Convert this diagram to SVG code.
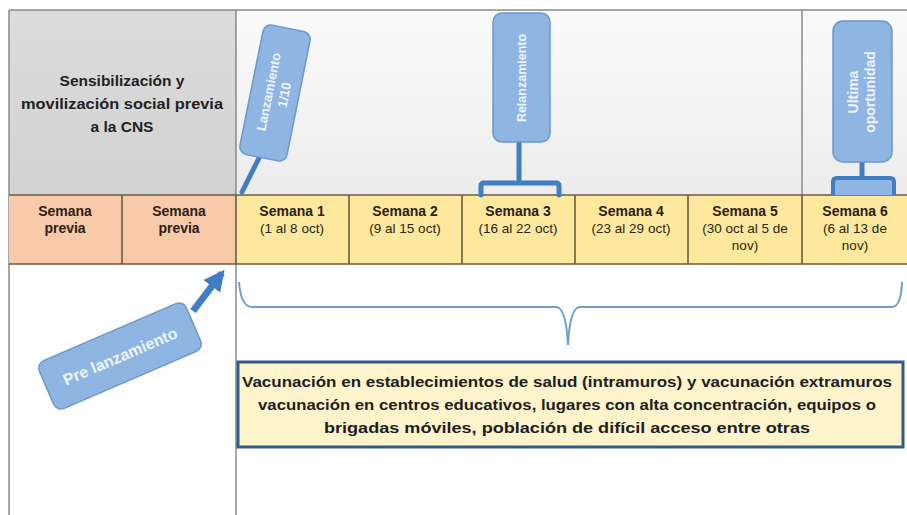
<svg xmlns="http://www.w3.org/2000/svg" width="907" height="515" viewBox="0 0 907 515">
<style>
.t{font-family:"Liberation Sans",Arial,sans-serif;font-weight:bold;fill:#2b2115;text-anchor:middle}
.cell{font-size:14px}
.sub{font-weight:normal;font-size:13.5px;fill:#2a1f12}
.hd{font-size:15.5px;fill:#222}
.main{font-size:15.5px;fill:#1e1e1e}
.co{font-family:"Liberation Sans",Arial,sans-serif;font-weight:bold;fill:#eef4fb;text-anchor:middle;font-size:13px}
.box{fill:#8fb6e3;stroke:#6b97c9;stroke-width:1.5}
.stem{stroke:#3f7ec2;stroke-width:5;fill:none;stroke-linecap:round}
.grid{stroke:#6b5a40;stroke-width:1.6;fill:none}
.frame{stroke:#8a8a8a;stroke-width:1.5;fill:none}
</style>
<defs>
<linearGradient id="bg" x1="0" y1="0" x2="0" y2="1">
<stop offset="0" stop-color="#fbfbfb"/>
<stop offset="1" stop-color="#ececec"/>
</linearGradient>
<linearGradient id="gr" x1="0" y1="0" x2="0" y2="1">
<stop offset="0" stop-color="#dcdcdc"/>
<stop offset="1" stop-color="#d2d2d2"/>
</linearGradient>
<marker id="ah" viewBox="0 0 10 10" refX="8" refY="5" markerWidth="3" markerHeight="3" orient="auto" markerUnits="strokeWidth">
<path d="M0,0 L10,5 L0,10 z" fill="#3f7ec2"/>
</marker>
</defs>
<rect width="907" height="515" fill="#ffffff"/>
<g id="top-area">
<rect x="236" y="10" width="671" height="185" fill="url(#bg)"/>
</g>
<g id="sensibilizacion">
<rect x="9" y="10" width="227" height="185" fill="url(#gr)"/>
<text class="t hd" x="122" y="86">Sensibilización y</text>
<text class="t hd" x="122" y="109" textLength="202" lengthAdjust="spacingAndGlyphs">movilización social previa</text>
<text class="t hd" x="122" y="132">a la CNS</text>
</g>
<g id="frame">
<line class="frame" x1="9" y1="10" x2="907" y2="10"/>
<line class="frame" x1="9" y1="10" x2="9" y2="515"/>
<line class="frame" x1="236" y1="10" x2="236" y2="515"/>
<line class="frame" x1="802" y1="10" x2="802" y2="195"/>
</g>
<g id="weeks">
<rect x="9" y="195" width="227" height="69" fill="#f8caa9"/>
<rect x="236" y="195" width="671" height="69" fill="#fde89e"/>
<line class="grid" x1="9" y1="195" x2="907" y2="195"/>
<line class="grid" x1="9" y1="264" x2="907" y2="264"/>
<line class="grid" x1="122" y1="195" x2="122" y2="264"/>
<line class="grid" x1="236" y1="195" x2="236" y2="264"/>
<line class="grid" x1="349" y1="195" x2="349" y2="264"/>
<line class="grid" x1="462" y1="195" x2="462" y2="264"/>
<line class="grid" x1="575" y1="195" x2="575" y2="264"/>
<line class="grid" x1="688" y1="195" x2="688" y2="264"/>
<line class="grid" x1="802" y1="195" x2="802" y2="264"/>
<g id="semana-previa-1"><text class="t cell" x="65" y="216">Semana</text><text class="t cell" x="65" y="233">previa</text></g>
<g id="semana-previa-2"><text class="t cell" x="179" y="216">Semana</text><text class="t cell" x="179" y="233">previa</text></g>
<g id="semana-1"><text class="t cell" x="292" y="216">Semana 1</text><text class="t cell sub" x="292" y="233">(1 al 8 oct)</text></g>
<g id="semana-2"><text class="t cell" x="405" y="216">Semana 2</text><text class="t cell sub" x="405" y="233">(9 al 15 oct)</text></g>
<g id="semana-3"><text class="t cell" x="518" y="216">Semana 3</text><text class="t cell sub" x="518" y="233">(16 al 22 oct)</text></g>
<g id="semana-4"><text class="t cell" x="631" y="216">Semana 4</text><text class="t cell sub" x="631" y="233">(23 al 29 oct)</text></g>
<g id="semana-5"><text class="t cell" x="745" y="216">Semana 5</text><text class="t cell sub" x="745" y="233">(30 oct al 5 de</text><text class="t cell sub" x="745" y="250">nov)</text></g>
<g id="semana-6"><text class="t cell" x="855" y="216">Semana 6</text><text class="t cell sub" x="855" y="233">(6 al  13 de</text><text class="t cell sub" x="855" y="250">nov)</text></g>
</g>
<g id="connectors">
<line class="stem" x1="259" y1="158" x2="242" y2="192"/>
<path class="stem" d="M519,142 V183 M481,195 V186 Q481,183 484,183 H556 Q559,183 559,186 V195"/>
<line class="stem" x1="862" y1="162" x2="862" y2="178"/>
<path d="M833,195 V182 Q833,178 837,178 H890 Q894,178 894,182 V195" fill="#8fb6e3" stroke="#3f7ec2" stroke-width="4"/>
<line x1="193" y1="311" x2="222" y2="273" stroke="#3f7ec2" stroke-width="7" marker-end="url(#ah)"/>
<path d="M239,282 Q241,307 252,307 H556 Q566,307 568,345 Q570,307 580,307 H892 Q901,307 902,282" fill="none" stroke="#6e9ec9" stroke-width="2"/>
</g>
<g id="lanzamiento" transform="translate(275,93) rotate(-78.6)">
<rect class="box" x="-66" y="-24" width="132" height="48" rx="8"/>
<text class="co" x="0" y="-2">Lanzamiento</text>
<text class="co" x="0" y="14">1/10</text>
</g>
<g id="relanzamiento">
<rect class="box" x="493" y="13" width="57" height="129" rx="9"/>
<text class="co" transform="translate(526,78) rotate(-90)" x="0" y="0" style="font-size:12.5px">Relanzamiento</text>
</g>
<g id="ultima-oportunidad">
<rect class="box" x="833" y="21" width="59" height="141" rx="10"/>
<g transform="translate(862,92) rotate(-90)">
<text class="co" x="0" y="-4" style="font-size:14px">Ultima</text>
<text class="co" x="0" y="13" style="font-size:14px">oportunidad</text>
</g>
</g>
<g id="pre-lanzamiento" transform="translate(120,356) rotate(-23.3)">
<rect class="box" x="-80" y="-26" width="160" height="52" rx="8"/>
<text class="co" x="0" y="6" style="font-size:16px">Pre lanzamiento</text>
</g>
<g id="vacunacion">
<rect x="238" y="362" width="665" height="85" fill="#fdf4cc" stroke="#2f5a8a" stroke-width="3"/>
<text class="t main" x="567" y="387" textLength="650" lengthAdjust="spacingAndGlyphs">Vacunación en establecimientos de salud (intramuros) y vacunación extramuros</text>
<text class="t main" x="567" y="410" textLength="618" lengthAdjust="spacingAndGlyphs">vacunación en centros educativos, lugares con alta concentración, equipos o</text>
<text class="t main" x="567" y="433" textLength="486" lengthAdjust="spacingAndGlyphs">brigadas móviles, población de difícil acceso entre otras</text>
</g>
</svg>
